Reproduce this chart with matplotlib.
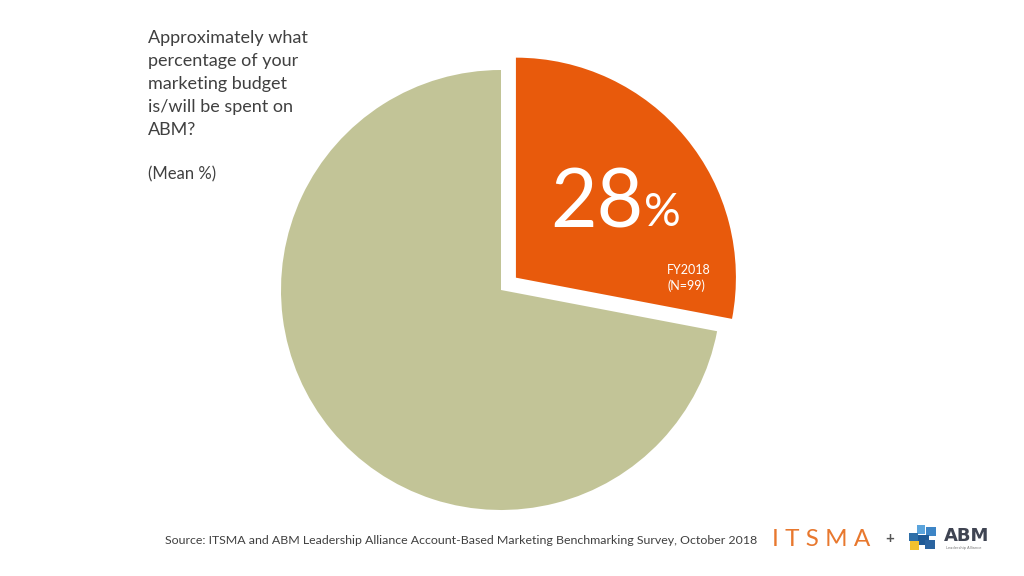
import numpy as np
import matplotlib
matplotlib.use('Agg')
import matplotlib.pyplot as plt
from matplotlib.patches import Rectangle

# data
labels = ['ABM', 'Other']
shares = [28, 72]
slice_colors = ['#E85A0C', '#C2C497']
explode_frac = [0.088, 0.0]

question = ('Approximately what\npercentage of your\nmarketing budget\n'
            'is/will be spent on\nABM?')
subtitle = '(Mean %)'
period_label = 'FY2018\n(N=99)'
source = ('Source: ITSMA and ABM Leadership Alliance Account-Based '
          'Marketing Benchmarking Survey, October 2018')

W, H = 1024, 576
FONT = 'Lato'
RADIUS = 220

fig = plt.figure(figsize=(W / 100, H / 100), dpi=100)
ax = fig.add_axes([0, 0, 1, 1])

# pie centered at pixel (501, 290); explode is in data units for pie
ax.pie(shares, colors=slice_colors,
       explode=[e * RADIUS for e in explode_frac], startangle=90,
       counterclock=False, center=(501, H - 290), radius=RADIUS,
       wedgeprops=dict(linewidth=0), frame=True)
ax.set_xlim(0, W)
ax.set_ylim(0, H)
ax.set_aspect('equal')
ax.set_axis_off()

# question text
ax.text(148, H - 30, question, fontsize=13, family=FONT, color='#404040',
        va='top', ha='left', linespacing=1.53)
ax.text(148, H - 166, subtitle, fontsize=12, family=FONT, color='#404040',
        va='top', ha='left')

# big value label
ax.text(597, H - 204, f'{shares[0]}', fontsize=58, family=FONT,
        color='white', ha='center', va='center')
ax.text(662, H - 213, '%', fontsize=33, family=FONT,
        color='white', ha='center', va='center')
ax.text(667, H - 278, period_label, fontsize=9, family=FONT,
        color='white', ha='left', va='center', linespacing=1.3)

# source
ax.text(165, H - 541, source, fontsize=8.9, family=FONT, color='#404040',
        ha='left', va='center')

# logos
ax.text(772, H - 539, 'I T S M A', fontsize=17.5, family=FONT,
        color='#E8782E', ha='left', va='center')
ax.text(890, H - 539, '+', fontsize=11, family=FONT, color='#555555',
        ha='center', va='center', fontweight='bold')
squares = [
    (917, 525, 8, 9, '#5BA4DC'),
    (926, 527, 10, 9, '#3D85C6'),
    (909, 533, 9, 8, '#2F6FA8'),
    (918, 535, 11, 10, '#1F5A96'),
    (910, 541, 9, 9, '#F2C12E'),
    (925, 540, 10, 9, '#2B64A0'),
]
for x, y, w, h, c in squares:
    ax.add_patch(Rectangle((x, H - y - h), w, h, color=c, lw=0))
ax.text(944, H - 536, 'ABM', fontsize=13, family='DejaVu Sans',
        color='#3F4452', fontweight='bold', ha='left', va='center')
ax.text(946, H - 548, 'Leadership Alliance', fontsize=2.6,
        family='DejaVu Sans', color='#777777', ha='left', va='center')

fig.savefig('out.png', dpi=100, facecolor='white')
